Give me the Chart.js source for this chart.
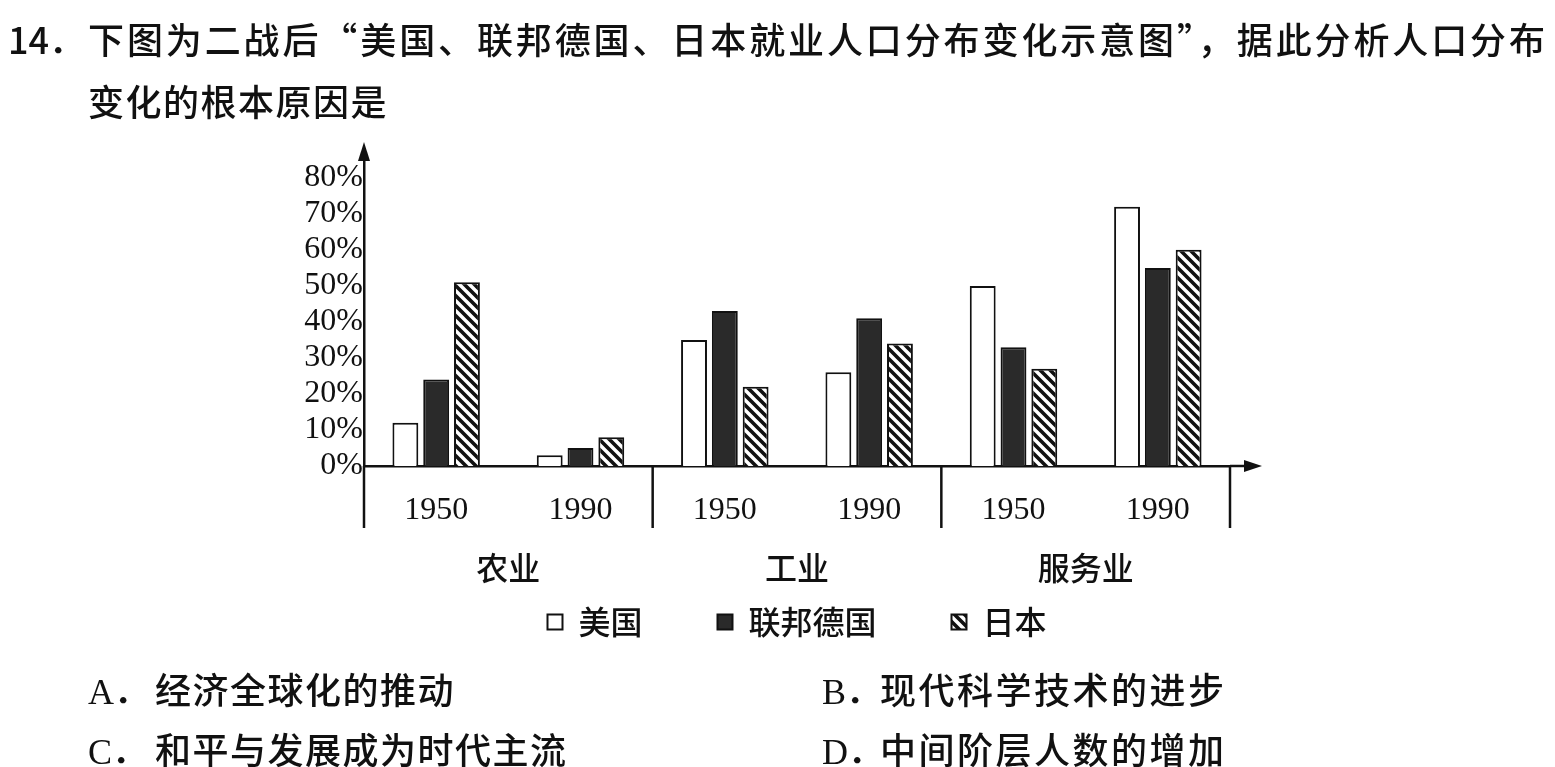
<!DOCTYPE html>
<html>
<head>
<meta charset="utf-8">
<script src="https://cdn.jsdelivr.net/npm/chart.js@4"></script>
<style>
  html, body { margin: 0; padding: 0; background: #fff; }
  body { width: 1555px; height: 767px; position: relative; overflow: hidden; color: #111; }
  #chart { position: absolute; left: 0; top: 0; }
  .txt { position: absolute; font-family: "Noto Sans CJK SC", sans-serif; font-weight: 500; font-size: 36px; line-height: 44px; white-space: nowrap; }
  .num { font-family: "Liberation Serif", serif; font-weight: 400; }
</style>
</head>
<body>
<canvas id="chart" width="1555" height="767"></canvas>

<div class="txt" style="left:8px; top:16px;">14．</div>
<div class="txt" style="left:88px; top:16px; width:1457px; text-align:justify; text-align-last:justify;">下图为二战后“美国、联邦德国、日本就业人口分布变化示意图”，据此分析人口分布</div>
<div class="txt" style="left:88px; top:78px; letter-spacing:1.5px;">变化的根本原因是</div>

<div class="txt" style="left:88px; top:666px;"><span class="num">A</span>．</div>
<div class="txt" style="left:155px; top:666px; letter-spacing:1.5px;">经济全球化的推动</div>
<div class="txt" style="left:822px; top:666px;"><span class="num">B</span>．</div>
<div class="txt" style="left:880px; top:666px; letter-spacing:2.5px;">现代科学技术的进步</div>
<div class="txt" style="left:88px; top:726px;"><span class="num">C</span>．</div>
<div class="txt" style="left:155px; top:726px; letter-spacing:1.5px;">和平与发展成为时代主流</div>
<div class="txt" style="left:822px; top:726px;"><span class="num">D</span>．</div>
<div class="txt" style="left:880px; top:726px; letter-spacing:2.5px;">中间阶层人数的增加</div>

<script>
// years under each bar group, sectors under each pair of years
const years = ['1950', '1990', '1950', '1990', '1950', '1990'];
const sectors = ['农业', '工业', '服务业'];

// share of employed population (%)
const usa = [12, 3, 35, 26, 50, 72];
const frg = [24, 5, 43, 41, 33, 55];
const japan = [51, 8, 22, 34, 27, 60];

const yTicks = [0, 10, 20, 30, 40, 50, 60, 70, 80];

function hatchPattern() {
  const s = 10;
  const c = document.createElement('canvas');
  c.width = s; c.height = s;
  const g = c.getContext('2d');
  g.fillStyle = '#fff';
  g.fillRect(0, 0, s, s);
  g.strokeStyle = '#111';
  g.lineWidth = 3.6;
  g.beginPath();
  g.moveTo(-2, -2); g.lineTo(s + 2, s + 2);
  g.moveTo(-2, s - 2); g.lineTo(2, s + 2);
  g.moveTo(s - 2, -2); g.lineTo(s + 2, 2);
  g.stroke();
  return g.createPattern(c, 'repeat');
}

// axis arrows, separators under the axis and the sector names
const decor = {
  id: 'decor',
  afterDraw(chart) {
    const ctx = chart.ctx;
    const area = chart.chartArea;
    const x = chart.scales.x;
    ctx.save();
    ctx.strokeStyle = '#111';
    ctx.fillStyle = '#111';
    ctx.lineWidth = 2.5;

    // y arrow
    ctx.beginPath();
    ctx.moveTo(area.left, area.top - 7);
    ctx.lineTo(area.left - 6, area.top + 12);
    ctx.lineTo(area.left + 6, area.top + 12);
    ctx.closePath();
    ctx.fill();

    // x arrow
    ctx.beginPath();
    ctx.moveTo(area.right, area.bottom);
    ctx.lineTo(area.right + 18, area.bottom);
    ctx.stroke();
    ctx.beginPath();
    ctx.moveTo(area.right + 32, area.bottom);
    ctx.lineTo(area.right + 14, area.bottom - 6);
    ctx.lineTo(area.right + 14, area.bottom + 6);
    ctx.closePath();
    ctx.fill();

    // separators between sectors
    const n = years.length;
    const step = x.width / n;
    for (let i = 0; i <= n; i += 2) {
      const bx = x.left + i * step;
      ctx.beginPath();
      ctx.moveTo(bx, area.bottom);
      ctx.lineTo(bx, area.bottom + 62);
      ctx.stroke();
    }

    // sector names
    ctx.font = '500 32px "Noto Sans CJK SC"';
    ctx.textAlign = 'center';
    ctx.textBaseline = 'middle';
    sectors.forEach((s, j) => {
      const cx = x.left + (2 * j + 1) * step;
      ctx.fillText(s, cx, area.bottom + 102);
    });
    ctx.restore();
  }
};

const ctx = document.getElementById('chart').getContext('2d');

new Chart(ctx, {
  type: 'bar',
  data: {
    labels: years,
    datasets: [
      {
        label: '美国',
        data: usa,
        backgroundColor: '#fff',
        borderColor: '#111',
        borderWidth: 2,
      },
      {
        label: '联邦德国',
        data: frg,
        backgroundColor: '#2a2a2a',
        borderColor: '#111',
        borderWidth: 2,
      },
      {
        label: '日本',
        data: japan,
        backgroundColor: hatchPattern(),
        borderColor: '#111',
        borderWidth: 2,
      }
    ]
  },
  options: {
    responsive: false,
    animation: false,
    categoryPercentage: 0.64,
    barPercentage: 0.84,
    layout: {
      padding: { left: 284, right: 325, top: 149, bottom: 119 }
    },
    plugins: {
      tooltip: { enabled: false },
      legend: {
        position: 'bottom',
        fullSize: false,
        labels: {
          color: '#111',
          font: { family: '"Noto Sans CJK SC"', size: 32, weight: 500 },
          boxWidth: 15,
          boxHeight: 15,
          padding: 75,
        }
      }
    },
    scales: {
      x: {
        grid: { display: false },
        border: { display: true, color: '#111', width: 2.5 },
        ticks: {
          color: '#111',
          font: { family: '"Liberation Serif"', size: 32 },
          padding: 17,
          maxRotation: 0,
        },
        afterFit(scale) { scale.height = 65; }
      },
      y: {
        min: 0,
        max: 88,
        grid: { display: false, drawTicks: false },
        border: { display: true, color: '#111', width: 2.5 },
        ticks: {
          color: '#111',
          font: { family: '"Liberation Serif"', size: 32, lineHeight: 1 },
          padding: 1,
          autoSkip: false,
          callback: v => v + '%',
        },
        afterBuildTicks(scale) {
          scale.ticks = yTicks.map(v => ({ value: v }));
        },
        afterFit(scale) { scale.width = 80; }
      }
    }
  },
  plugins: [decor]
});
</script>
</body>
</html>
